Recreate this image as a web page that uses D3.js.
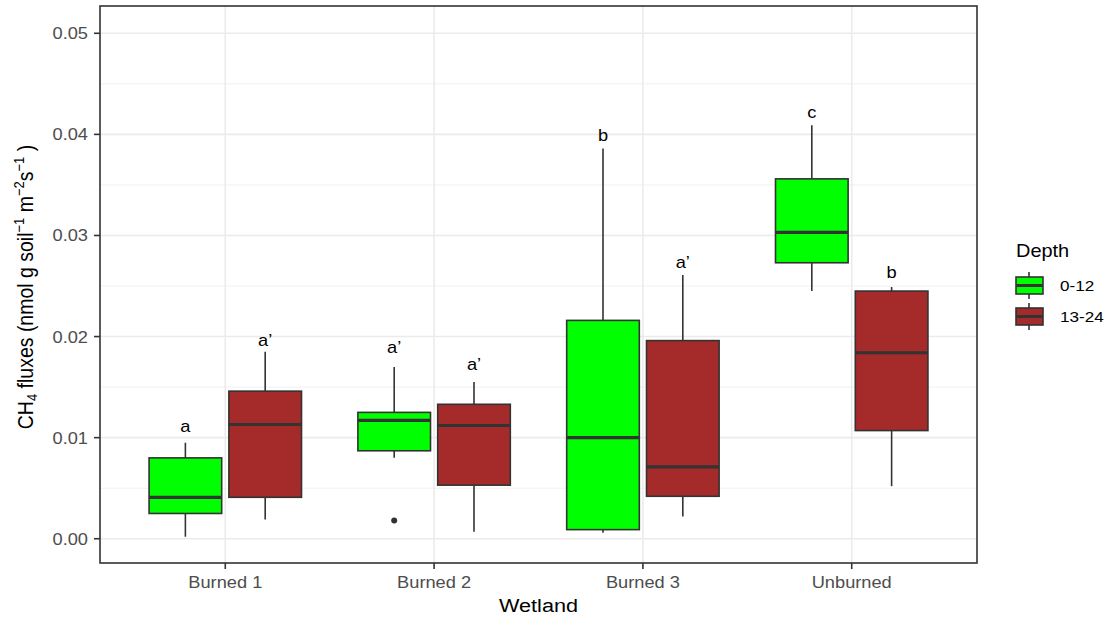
<!DOCTYPE html>
<html>
<head>
<meta charset="utf-8">
<script src="https://cdn.jsdelivr.net/npm/d3@7"></script>
<style>
  body { margin: 0; background: #fff; }
  text { font-family: "Liberation Sans", Arial, sans-serif; }
</style>
</head>
<body>
<script>
(function() {
const width = 1110;
const height = 617;

// panel box
const margin = { top: 6, left: 100, right: 133, bottom: 54 };
// the picture text looks a bit wider than normal
const sx = 1.14;

// data
const wetlands = ["Burned 1", "Burned 2", "Burned 3", "Unburned"];
const depths = ["0-12", "13-24"];
const depthColors = ["#00FF00", "#A52A2A"];

// [0-12, 13-24] for every wetland
const whiskerLow = [[0.0002, 0.0019], [0.0080, 0.0007], [0.0006, 0.0022], [0.0245, 0.0052]];
const quart1 = [[0.0025, 0.0041], [0.0087, 0.0053], [0.0009, 0.0042], [0.0273, 0.0107]];
const medians = [[0.0041, 0.0113], [0.0117, 0.0112], [0.0100, 0.0071], [0.0303, 0.0184]];
const quart3 = [[0.0080, 0.0146], [0.0125, 0.0133], [0.0216, 0.0196], [0.0356, 0.0245]];
const whiskerHigh = [[0.0095, 0.0185], [0.0170, 0.0155], [0.0386, 0.0261], [0.0409, 0.0249]];
const outliers = [{ wetland: "Burned 2", depth: "0-12", value: 0.0018 }];

const letters = [["a", "a’"], ["a’", "a’"], ["b", "a’"], ["c", "b"]];
const letterY = [[0.0111, 0.0196], [0.0189, 0.0172], [0.0398, 0.0273], [0.0421, 0.0263]];

const yTicks = [0, 0.01, 0.02, 0.03, 0.04, 0.05];
const yMinor = [0.005, 0.015, 0.025, 0.035, 0.045];

const boxes = [];
wetlands.forEach((w, i) => {
  depths.forEach((d, j) => {
    boxes.push({
      wetland: w, depth: d, color: depthColors[j],
      lo: whiskerLow[i][j], q1: quart1[i][j], med: medians[i][j],
      q3: quart3[i][j], hi: whiskerHigh[i][j],
      letter: letters[i][j], ly: letterY[i][j]
    });
  });
});

const svg = d3.select("body").append("svg")
  .attr("width", width)
  .attr("height", height);

const x0 = margin.left, x1 = width - margin.right;
const y0 = margin.top, y1 = height - margin.bottom;

const xScale = d3.scaleBand().domain(wetlands)
  .range([x0, x1]).paddingOuter(0.1).paddingInner(0);
const dodgeW = xScale.bandwidth() * 0.73;
const dodge = d3.scaleBand().domain(depths)
  .range([0, dodgeW]).paddingInner(0.09);
const yScale = d3.scaleLinear().domain([-0.0024, 0.0527]).range([y1, y0]);

const cx = (w) => xScale(w) + xScale.bandwidth() / 2;
const bx = (d) => cx(d.wetland) - dodgeW / 2 + dodge(d.depth);
const bw = dodge.bandwidth();

// grid
const grid = svg.append("g");
grid.selectAll(".minor").data(yMinor).join("line")
  .attr("x1", x0).attr("x2", x1)
  .attr("y1", (d) => yScale(d)).attr("y2", (d) => yScale(d))
  .attr("stroke", "#EEEEEE").attr("stroke-width", 0.8);
grid.selectAll(".major").data(yTicks).join("line")
  .attr("x1", x0).attr("x2", x1)
  .attr("y1", (d) => yScale(d)).attr("y2", (d) => yScale(d))
  .attr("stroke", "#EBEBEB").attr("stroke-width", 1.6);
grid.selectAll(".vmajor").data(wetlands).join("line")
  .attr("x1", cx).attr("x2", cx)
  .attr("y1", y0).attr("y2", y1)
  .attr("stroke", "#EBEBEB").attr("stroke-width", 1.6);

// boxplots
const g = svg.append("g").selectAll("g").data(boxes).join("g");
g.append("line")
  .attr("x1", (d) => bx(d) + bw / 2).attr("x2", (d) => bx(d) + bw / 2)
  .attr("y1", (d) => yScale(d.hi)).attr("y2", (d) => yScale(d.q3))
  .attr("stroke", "#333").attr("stroke-width", 1.6);
g.append("line")
  .attr("x1", (d) => bx(d) + bw / 2).attr("x2", (d) => bx(d) + bw / 2)
  .attr("y1", (d) => yScale(d.q1)).attr("y2", (d) => yScale(d.lo))
  .attr("stroke", "#333").attr("stroke-width", 1.6);
g.append("rect")
  .attr("x", bx).attr("width", bw)
  .attr("y", (d) => yScale(d.q3))
  .attr("height", (d) => yScale(d.q1) - yScale(d.q3))
  .attr("fill", (d) => d.color)
  .attr("stroke", "#333").attr("stroke-width", 1.6);
g.append("line")
  .attr("x1", bx).attr("x2", (d) => bx(d) + bw)
  .attr("y1", (d) => yScale(d.med)).attr("y2", (d) => yScale(d.med))
  .attr("stroke", "#333").attr("stroke-width", 3.2);
g.append("text")
  .attr("transform", (d) => `translate(${bx(d) + bw / 2},${yScale(d.ly) + 5}) scale(${sx},1)`)
  .attr("text-anchor", "middle")
  .attr("font-size", "16px")
  .attr("fill", "#000")
  .text((d) => d.letter);

svg.append("g").selectAll("circle").data(outliers).join("circle")
  .attr("cx", (d) => bx(d) + bw / 2)
  .attr("cy", (d) => yScale(d.value))
  .attr("r", 3)
  .attr("fill", "#333");

// panel border
svg.append("rect")
  .attr("x", x0).attr("y", y0)
  .attr("width", x1 - x0).attr("height", y1 - y0)
  .attr("fill", "none").attr("stroke", "#333").attr("stroke-width", 1.6);

// y axis
const yAx = svg.append("g");
yAx.selectAll("line").data(yTicks).join("line")
  .attr("x1", x0 - 6).attr("x2", x0)
  .attr("y1", (d) => yScale(d)).attr("y2", (d) => yScale(d))
  .attr("stroke", "#333").attr("stroke-width", 1.6);
yAx.selectAll("text").data(yTicks).join("text")
  .attr("transform", (d) => `translate(${x0 - 12},${yScale(d) + 6}) scale(${sx},1)`)
  .attr("text-anchor", "end")
  .attr("font-size", "16px")
  .attr("fill", "#4D4D4D")
  .text((d) => d3.format(".2f")(d));

// x axis
const xAx = svg.append("g");
xAx.selectAll("line").data(wetlands).join("line")
  .attr("x1", cx).attr("x2", cx)
  .attr("y1", y1).attr("y2", y1 + 6)
  .attr("stroke", "#333").attr("stroke-width", 1.6);
xAx.selectAll("text").data(wetlands).join("text")
  .attr("transform", (d) => `translate(${cx(d)},${y1 + 25}) scale(${sx},1)`)
  .attr("text-anchor", "middle")
  .attr("font-size", "16px")
  .attr("fill", "#4D4D4D")
  .text((d) => d);

svg.append("text")
  .attr("transform", `translate(${(x0 + x1) / 2},612) scale(${sx},1)`)
  .attr("text-anchor", "middle")
  .attr("font-size", "19px")
  .attr("fill", "#000")
  .text("Wetland");

// y title with sub/superscripts
const yt = svg.append("text")
  .attr("transform", `translate(33,287) scale(${sx},1) rotate(-90)`)
  .attr("text-anchor", "middle")
  .attr("font-size", "19.5px")
  .attr("fill", "#000");
const parts = [
  ["CH", 0], ["4", 1], [" fluxes (nmol g soil", 0], ["−1", 2], [" m", 0],
  ["−2", 2], ["s", 0], ["−1", 2], [" )", 0]
];
parts.forEach(([t, k]) => {
  const sp = yt.append("tspan").text(t);
  if (k === 1) sp.attr("baseline-shift", "-25%").attr("font-size", "13px");
  if (k === 2) sp.attr("baseline-shift", "55%").attr("font-size", "13px");
});

// legend
const lg = svg.append("g").attr("transform", "translate(1015,250)");
lg.append("text")
  .attr("transform", `translate(1,7) scale(${sx},1)`)
  .attr("font-size", "17.5px")
  .attr("fill", "#000")
  .text("Depth");
const keys = lg.selectAll(".key").data(depths).join("g")
  .attr("transform", (d, i) => `translate(0,${22 + i * 31})`);
keys.append("line")
  .attr("x1", 14).attr("x2", 14).attr("y1", 0).attr("y2", 27)
  .attr("stroke", "#333").attr("stroke-width", 1.6);
keys.append("rect")
  .attr("x", 1).attr("y", 5).attr("width", 27).attr("height", 17)
  .attr("fill", (d, i) => depthColors[i])
  .attr("stroke", "#333").attr("stroke-width", 1.6);
keys.append("line")
  .attr("x1", 1).attr("x2", 28).attr("y1", 13.5).attr("y2", 13.5)
  .attr("stroke", "#333").attr("stroke-width", 3);
keys.append("text")
  .attr("transform", `translate(45,19) scale(${sx},1)`)
  .attr("font-size", "15px")
  .attr("fill", "#000")
  .text((d) => d);
}());
</script>
</body>
</html>
